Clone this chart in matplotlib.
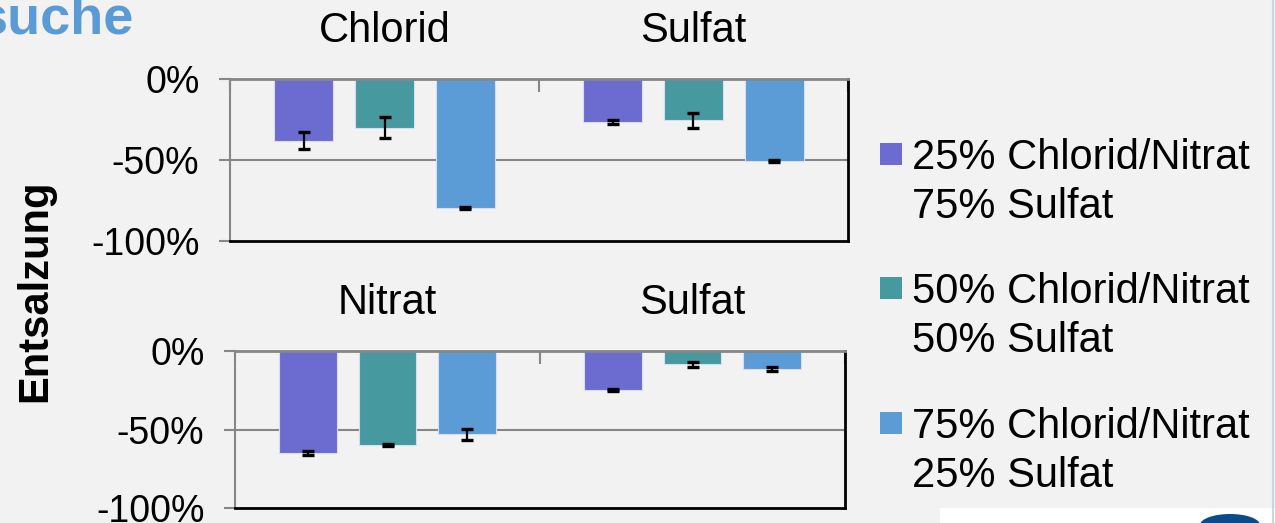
import numpy as np
import matplotlib
matplotlib.use('Agg')
import matplotlib.pyplot as plt
from matplotlib.patches import Rectangle, Ellipse

plt.rcParams['font.family'] = ['Liberation Sans', 'DejaVu Sans']

# data
top_categories = ['Chlorid', 'Sulfat']
bottom_categories = ['Nitrat', 'Sulfat']
series_labels = ['25% Chlorid/Nitrat\n75% Sulfat',
                 '50% Chlorid/Nitrat\n50% Sulfat',
                 '75% Chlorid/Nitrat\n25% Sulfat']
series_colors = ['#6C6BCF', '#46999F', '#5B9BD6']

top_25 = [-38, -26.5]
top_50 = [-30, -25.5]
top_75 = [-79.5, -50.5]
top_err_25 = [5, 1.5]
top_err_50 = [6.5, 4.5]
top_err_75 = [0.5, 0.5]

bottom_25 = [-65, -25]
bottom_50 = [-60, -8.5]
bottom_75 = [-53, -11.5]
bottom_err_25 = [1.5, 0.5]
bottom_err_50 = [0.5, 1.8]
bottom_err_75 = [3.5, 1.3]

y_ticks = [0, -50, -100]
y_tick_labels = ['0%', '-50%', '-100%']

W, H = 1275, 523
BG = '#F2F2F2'
GRAY = '#868686'


def px(x):
    return x / W


def py(y):
    return 1 - y / H


def draw_panel(fig, rect, categories, values, errors):
    ax = fig.add_axes(rect)
    ax.set_facecolor('none')
    centers = np.arange(len(categories)) + 0.5
    offsets = [-0.262, 0.0, 0.262]
    width = 0.19
    for vals, errs, color, off in zip(values, errors, series_colors, offsets):
        ax.bar(centers + off, vals, width, color=color, edgecolor='#D9DDF0',
               linewidth=0.8, zorder=2)
        ax.errorbar(centers + off, vals, yerr=errs, fmt='none', ecolor='black',
                    elinewidth=1.6, capsize=4.5, capthick=2.4, zorder=3)
    ax.set_xlim(0, len(categories))
    ax.set_ylim(-100, 0)
    ax.set_yticks(y_ticks)
    ax.set_yticklabels(y_tick_labels, fontsize=27)
    ax.tick_params(axis='y', direction='out', length=8, width=1.5, color=GRAY, pad=14)
    # category boundaries as ticks, names on top
    ax.xaxis.tick_top()
    ax.set_xticks(np.arange(len(categories) + 1))
    ax.set_xticklabels([])
    ax.set_xticks(centers, minor=True)
    ax.set_xticklabels(categories, minor=True, fontsize=30)
    ax.tick_params(axis='x', which='major', direction='in', length=9, width=1.5, color=GRAY)
    ax.tick_params(axis='x', which='minor', length=0, pad=20)
    ax.axhline(-50, color=GRAY, linewidth=1.5, zorder=1)
    ax.spines['left'].set_color(GRAY)
    ax.spines['top'].set_color(GRAY)
    ax.spines['left'].set_linewidth(1.5)
    ax.spines['top'].set_linewidth(2)
    ax.spines['bottom'].set_color('black')
    ax.spines['right'].set_color('black')
    ax.spines['bottom'].set_linewidth(2)
    ax.spines['right'].set_linewidth(2)
    return ax


fig = plt.figure(figsize=(W / 100, H / 100), dpi=100, facecolor=BG)

draw_panel(fig, [px(230), py(241), px(848) - px(230), py(79) - py(241)],
           top_categories, [top_25, top_50, top_75],
           [top_err_25, top_err_50, top_err_75])
draw_panel(fig, [px(235), py(508), px(845) - px(235), py(351) - py(508)],
           bottom_categories, [bottom_25, bottom_50, bottom_75],
           [bottom_err_25, bottom_err_50, bottom_err_75])

# y label
fig.text(px(35), py(291), 'Entsalzung', rotation=90, fontsize=30, fontweight='bold',
         ha='center', va='center')

# slide title fragment
fig.text(px(134), py(33), 'suche', fontsize=39, fontweight='bold', color='#5B9BD5',
         ha='right', va='baseline')

# legend drawn by hand, square on first line
first_baselines = [169.3, 303.3, 438]
for label, color, base in zip(series_labels, series_colors, first_baselines):
    fig.patches.append(Rectangle((px(880), py(base - 4)), px(22), py(0) - py(22),
                                 transform=fig.transFigure, facecolor=color,
                                 edgecolor='none'))
    for i, line in enumerate(label.split('\n')):
        fig.text(px(912), py(base + i * 48.7), line, fontsize=30, ha='left', va='baseline')

# logo corner
fig.patches.append(Rectangle((px(940), 0), px(335), py(508), transform=fig.transFigure,
                             facecolor='white', edgecolor='none'))
fig.patches.append(Ellipse((px(1230), py(525)), px(60), py(0) - py(22),
                           transform=fig.transFigure, facecolor='#0B4A8B',
                           edgecolor='none'))
fig.lines.append(plt.Line2D([px(1273), px(1273)], [0, 1], transform=fig.transFigure,
                            color='#C9D6E6', linewidth=1.5))

fig.savefig('out.png', dpi=100, facecolor=BG)
